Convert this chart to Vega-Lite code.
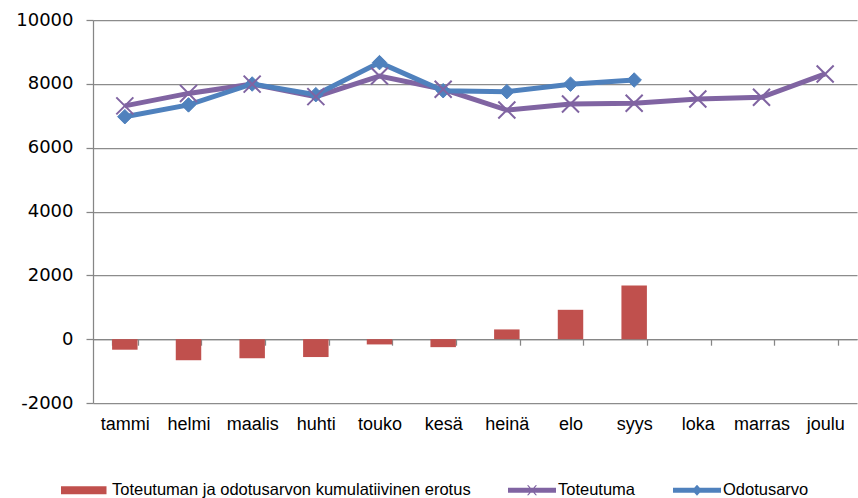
{
  "$schema": "https://vega.github.io/schema/vega-lite/v6.json",
  "width": 764,
  "height": 383,
  "autosize": "none",
  "padding": {"left": 93, "top": 20, "right": 1, "bottom": 95},
  "background": "white",
  "config": {"view": {"stroke": null}, "font": "Liberation Sans"},
  "data": {
    "values": [
      {"kuukausi": "tammi", "sarja": "Toteutuma", "arvo": 7310},
      {"kuukausi": "helmi", "sarja": "Toteutuma", "arvo": 7700},
      {"kuukausi": "maalis", "sarja": "Toteutuma", "arvo": 7990},
      {"kuukausi": "huhti", "sarja": "Toteutuma", "arvo": 7600},
      {"kuukausi": "touko", "sarja": "Toteutuma", "arvo": 8245},
      {"kuukausi": "kesä", "sarja": "Toteutuma", "arvo": 7830},
      {"kuukausi": "heinä", "sarja": "Toteutuma", "arvo": 7180},
      {"kuukausi": "elo", "sarja": "Toteutuma", "arvo": 7370},
      {"kuukausi": "syys", "sarja": "Toteutuma", "arvo": 7390},
      {"kuukausi": "loka", "sarja": "Toteutuma", "arvo": 7525},
      {"kuukausi": "marras", "sarja": "Toteutuma", "arvo": 7580},
      {"kuukausi": "joulu", "sarja": "Toteutuma", "arvo": 8310},
      {"kuukausi": "tammi", "sarja": "Odotusarvo", "arvo": 6970},
      {"kuukausi": "helmi", "sarja": "Odotusarvo", "arvo": 7340},
      {"kuukausi": "maalis", "sarja": "Odotusarvo", "arvo": 7995},
      {"kuukausi": "huhti", "sarja": "Odotusarvo", "arvo": 7660},
      {"kuukausi": "touko", "sarja": "Odotusarvo", "arvo": 8665},
      {"kuukausi": "kesä", "sarja": "Odotusarvo", "arvo": 7785},
      {"kuukausi": "heinä", "sarja": "Odotusarvo", "arvo": 7755},
      {"kuukausi": "elo", "sarja": "Odotusarvo", "arvo": 7990},
      {"kuukausi": "syys", "sarja": "Odotusarvo", "arvo": 8120},
      {"kuukausi": "tammi", "sarja": "Toteutuman ja odotusarvon kumulatiivinen erotus", "arvo": -330},
      {"kuukausi": "helmi", "sarja": "Toteutuman ja odotusarvon kumulatiivinen erotus", "arvo": -660},
      {"kuukausi": "maalis", "sarja": "Toteutuman ja odotusarvon kumulatiivinen erotus", "arvo": -595},
      {"kuukausi": "huhti", "sarja": "Toteutuman ja odotusarvon kumulatiivinen erotus", "arvo": -560},
      {"kuukausi": "touko", "sarja": "Toteutuman ja odotusarvon kumulatiivinen erotus", "arvo": -165},
      {"kuukausi": "kesä", "sarja": "Toteutuman ja odotusarvon kumulatiivinen erotus", "arvo": -250},
      {"kuukausi": "heinä", "sarja": "Toteutuman ja odotusarvon kumulatiivinen erotus", "arvo": 305},
      {"kuukausi": "elo", "sarja": "Toteutuman ja odotusarvon kumulatiivinen erotus", "arvo": 920},
      {"kuukausi": "syys", "sarja": "Toteutuman ja odotusarvon kumulatiivinen erotus", "arvo": 1680}
    ]
  },
  "encoding": {
    "x": {
      "field": "kuukausi",
      "type": "nominal",
      "sort": ["tammi", "helmi", "maalis", "huhti", "touko", "kesä", "heinä", "elo", "syys", "loka", "marras", "joulu"],
      "title": null,
      "scale": {
        "domain": ["tammi", "helmi", "maalis", "huhti", "touko", "kesä", "heinä", "elo", "syys", "loka", "marras", "joulu"],
        "paddingInner": 0.6,
        "paddingOuter": 0.3
      },
      "axis": {
        "offset": -63.8,
        "labelAngle": 0,
        "grid": false,
        "domainColor": "#868686",
        "domainWidth": 1.25,
        "tickColor": "#868686",
        "tickWidth": 1.25,
        "tickSize": 6,
        "tickBand": "extent",
        "labelFontSize": 18,
        "labelColor": "#000000",
        "labelPadding": 70
      }
    },
    "y": {
      "field": "arvo",
      "type": "quantitative",
      "title": null,
      "scale": {"domain": [-2000, 10000], "nice": false},
      "axis": {
        "values": [-2000, 0, 2000, 4000, 6000, 8000, 10000],
        "labelExpr": "'' + datum.value",
        "grid": true,
        "gridColor": "#8c8c8c",
        "gridWidth": 1.25,
        "domainColor": "#868686",
        "domainWidth": 1.25,
        "tickColor": "#868686",
        "tickWidth": 1.25,
        "tickSize": 7,
        "labelFont": "DejaVu Sans",
        "labelFontSize": 18,
        "labelColor": "#000000",
        "labelPadding": 13
      }
    }
  },
  "layer": [
    {
      "transform": [{"filter": "datum.sarja === 'Toteutuman ja odotusarvon kumulatiivinen erotus'"}],
      "mark": {"type": "bar"},
      "encoding": {
        "color": {
          "field": "sarja",
          "type": "nominal",
          "scale": {
            "domain": ["Toteutuman ja odotusarvon kumulatiivinen erotus", "Toteutuma", "Odotusarvo"],
            "range": ["#C0504D", "#8064A2", "#4F81BD"]
          },
          "legend": {
            "orient": "none",
            "legendX": -32,
            "legendY": 445,
            "direction": "horizontal",
            "title": null,
            "symbolSize": 2500,
            "symbolStrokeWidth": 0,
            "labelFontSize": 16.5,
            "labelColor": "#000000",
            "labelLimit": 0,
            "labelOffset": 1,
            "columnPadding": 36,
            "padding": 0,
            "encode": {
              "symbols": {
                "update": {
                  "shape": {"signal": "datum.value === 'Toteutuma' ? 'M-0.96,-0.1H0.96V0.1H-0.96Z M-0.2,-0.2L-0.14,-0.2L0.2,0.2L0.14,0.2Z M0.14,-0.2L0.2,-0.2L-0.14,0.2L-0.2,0.2Z' : datum.value === 'Odotusarvo' ? 'M-0.96,-0.1H0.96V0.1H-0.96Z M0,-0.22L0.2,0L0,0.22L-0.2,0Z' : 'M-1,-0.16H0.82V0.16H-1Z'"},
                  "fill": {"signal": "scale('color', datum.value)"},
                  "fillOpacity": {"value": 1},
                  "opacity": {"value": 1},
                  "strokeWidth": {"value": 0}
                }
              }
            }
          }
        }
      }
    },
    {
      "transform": [{"filter": "datum.sarja !== 'Toteutuman ja odotusarvon kumulatiivinen erotus'"}],
      "mark": {"type": "line", "strokeWidth": 5},
      "encoding": {
        "color": {"field": "sarja", "type": "nominal"}
      }
    },
    {
      "transform": [{"filter": "datum.sarja === 'Odotusarvo'"}],
      "mark": {"type": "point", "shape": "diamond", "filled": true, "size": 210, "color": "#4F81BD", "stroke": "#4F81BD", "strokeWidth": 1, "opacity": 1}
    },
    {
      "transform": [{"filter": "datum.sarja === 'Toteutuma'"}],
      "mark": {"type": "point", "shape": "M-1,-1L1,1M-1,1L1,-1", "filled": false, "size": 290, "stroke": "#8064A2", "strokeWidth": 2, "opacity": 1}
    }
  ]
}
